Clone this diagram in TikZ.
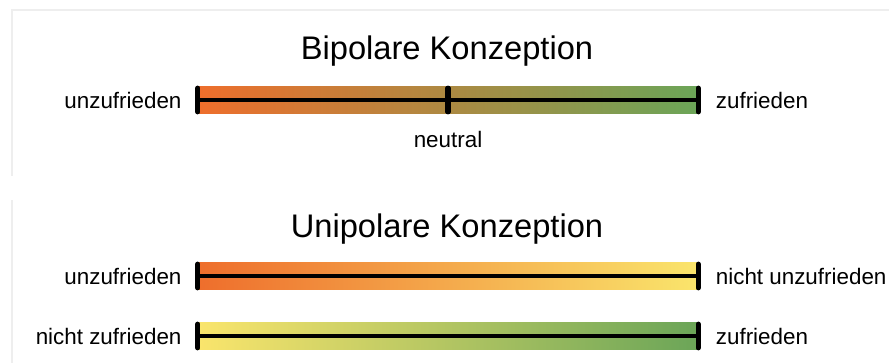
\documentclass[tikz,border=0pt]{standalone}
\usepackage{fontspec}
\setmainfont{Liberation Sans}
\usetikzlibrary{positioning}
\definecolor{dissatorange}{HTML}{EE6E2C}
\definecolor{satgreen}{HTML}{6BA558}
\definecolor{neutralyellow}{HTML}{FAE56C}
\definecolor{panelgray}{HTML}{EEEEEE}

\begin{document}
\begin{tikzpicture}[x=0.75pt,y=-0.75pt,
		scalebar/.style={rectangle,minimum width=375pt,minimum height=20pt,inner sep=0pt},
		heading/.style={font=\fontsize{24.5}{29}\selectfont,inner sep=0pt},
		pole/.style={font=\fontsize{16.8}{20}\selectfont,inner sep=0pt},
		endtick/.style={line width=3.8pt,line cap=round,shorten <=1.3pt,shorten >=1.3pt},
		axisline/.style={line width=2.5pt}]
	\useasboundingbox[fill=white] (0,0) rectangle (889,363);
	% card edges
	\draw[panelgray,line width=1.5pt] (12,176) -- (12,10) -- (889,10);
	\draw[panelgray,line width=1.5pt] (12,363) -- (12,200);

	% bipolar
	\node[heading] (bititle) at (447,51.5) {Bipolare Konzeption};
	\node[scalebar,left color=dissatorange,right color=satgreen] (bibar) at (448,100) {};
	\draw[axisline] (bibar.west) -- (bibar.east);
	\draw[endtick] (bibar.north west) -- (bibar.south west);
	\draw[endtick] (bibar.north) -- (bibar.south);
	\draw[endtick] (bibar.north east) -- (bibar.south east);
	\node[pole,left=12pt of bibar] (bileft) {unzufrieden};
	\node[pole,right=13pt of bibar] (biright) {zufrieden};
	\node[pole,below=13pt of bibar] (bimid) {neutral};

	% unipolar
	\node[heading] (unititle) at (447,229) {Unipolare Konzeption};
	\node[scalebar,left color=dissatorange,right color=neutralyellow] (dissatbar) at (448,276) {};
	\node[scalebar,left color=neutralyellow,right color=satgreen] (satbar) at (448,336) {};
	\foreach \b in {dissatbar,satbar}{
		\draw[axisline] (\b.west) -- (\b.east);
		\draw[endtick] (\b.north west) -- (\b.south west);
		\draw[endtick] (\b.north east) -- (\b.south east);
	}
	\node[pole,left=12pt of dissatbar] (dissatleft) {unzufrieden};
	\node[pole,right=13pt of dissatbar] (dissatright) {nicht unzufrieden};
	\node[pole,left=12pt of satbar] (satleft) {nicht zufrieden};
	\node[pole,right=13pt of satbar] (satright) {zufrieden};
\end{tikzpicture}
\end{document}
